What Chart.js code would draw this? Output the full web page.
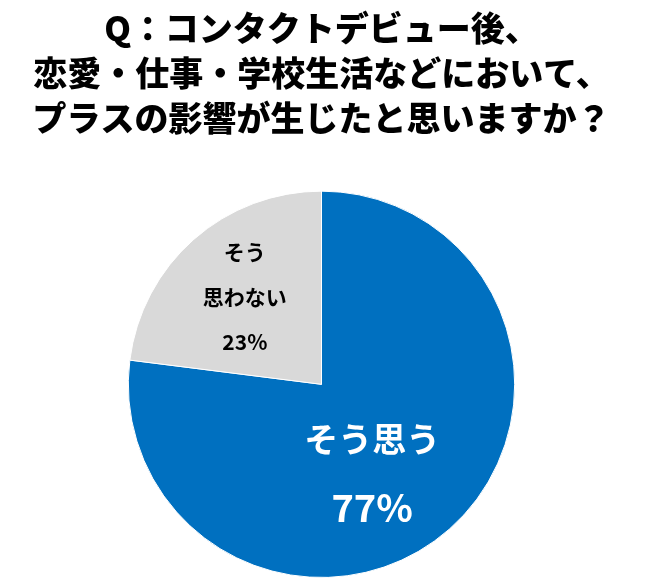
<!DOCTYPE html>
<html><head><meta charset="utf-8">
<script src="https://cdn.jsdelivr.net/npm/chart.js@4"></script>
<style>html,body{margin:0;padding:0;background:#fff}#w{width:659px;height:584px}</style>
</head><body><div id="w"><canvas id="c"></canvas></div>
<script>
const titleLines = ["Q：コンタクトデビュー後、","恋愛・仕事・学校生活などにおいて、","プラスの影響が生じたと思いますか？"];
const categories = ["そう思う","そう思わない"];
const labelLines = [["そう思う"],["そう","思わない"]];
const values = [77, 23];
const colors = ["#0070C0","#D9D9D9"];

const labelPlugin = {
  id: "lbl",
  afterDatasetsDraw(chart){
    const ctx = chart.ctx;
    const meta = chart.getDatasetMeta(0);
    meta.data.forEach((arc,i)=>{
      const mid=(arc.startAngle+arc.endAngle)/2;
      const x=arc.x+Math.cos(mid)*arc.outerRadius*0.6 - (i===0?26:0);
      const y=arc.y+Math.sin(mid)*arc.outerRadius*0.6;
      ctx.save();
      ctx.textAlign="center";ctx.textBaseline="middle";
      if(i===0){
        ctx.fillStyle="#fff";
        ctx.font="bold 34px 'Noto Sans CJK JP'";
        ctx.fillText(labelLines[0][0], x, y-32);
        ctx.font="bold 38px 'Noto Sans CJK JP'";
        ctx.fillText(values[0]+"%", x, y+36);
      } else {
        ctx.fillStyle="#000";
        ctx.font="bold 21px 'Noto Sans CJK JP'";
        ctx.fillText(labelLines[1][0], x, y-45);
        ctx.fillText(labelLines[1][1], x, y);
        ctx.fillText(values[1]+"%", x, y+45);
      }
      ctx.restore();
    });
  }
};

new Chart(document.getElementById("c"),{
  type:"pie",
  data:{labels:categories,datasets:[{data:values,backgroundColor:colors,borderColor:"#fff",borderWidth:1}]},
  options:{
    responsive:true,maintainAspectRatio:false,animation:false,
    layout:{padding:{top:0,bottom:6,left:0,right:16}},
    plugins:{
      legend:{display:false},tooltip:{enabled:false},
      title:{display:true,text:titleLines,color:"#000",
        font:{family:"'Noto Sans CJK JP'",size:34,weight:"900",lineHeight:1.32},
        padding:{top:6,bottom:50}}
    }
  },
  plugins:[labelPlugin]
});
</script></body></html>
